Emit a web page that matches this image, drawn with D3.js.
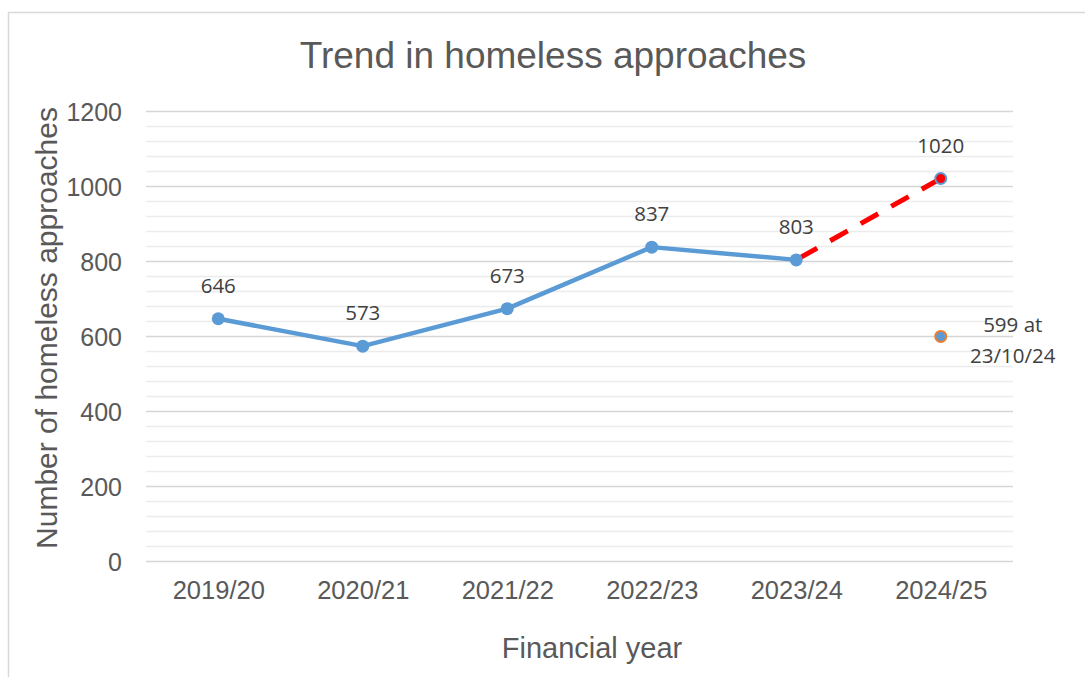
<!DOCTYPE html>
<html><head><meta charset="utf-8">
<script src="https://cdn.jsdelivr.net/npm/d3@7"></script>
<style>body{margin:0;background:#fff}svg{display:block}</style>
</head><body>
<svg id="c" width="1085" height="677"></svg>
<script>
const categories = ["2019/20","2020/21","2021/22","2022/23","2023/24","2024/25"];
const actualValues = [646, 573, 673, 837, 803];
const projectedCategories = ["2023/24","2024/25"];
const projectedValues = [803, 1020];
const partialCategory = "2024/25";
const partialValue = 599;
const partialLabel = ["599 at", "23/10/24"];
const yTicks = [0,200,400,600,800,1000,1200];

const svg = d3.select("#c");
const L=146, R=1013, T=111, B=561;
const x = d3.scalePoint().domain(categories).range([L,R]).padding(0.5);
const y = d3.scaleLinear().domain([0,1200]).range([B,T]);
const axisFont = "'Liberation Sans', Arial, sans-serif";
const labFont = "'Open Sans', 'Noto Sans', sans-serif";

svg.append("rect").attr("x",8.5).attr("y",12.5).attr("width",1100).attr("height",700)
  .attr("fill","#fff").attr("stroke","#d9d9d9").attr("stroke-width",1.5);

// minor gridlines
const minor = d3.range(0,1201,40).filter(v=>v%200!==0);
svg.append("g").call(d3.axisLeft(y).tickValues(minor).tickSize(-(R-L)).tickFormat(""))
  .attr("transform",`translate(${L},0)`)
  .call(g=>g.select(".domain").remove())
  .call(g=>g.selectAll("line").attr("stroke","#ececec").attr("stroke-width",1.5));
// major gridlines + labels
svg.append("g").call(d3.axisLeft(y).tickValues(yTicks).tickSize(-(R-L)).tickPadding(24).tickFormat(d3.format("d")))
  .attr("transform",`translate(${L},0)`)
  .call(g=>g.select(".domain").remove())
  .call(g=>g.selectAll("line").attr("stroke","#d6d6d6").attr("stroke-width",1.5))
  .call(g=>g.selectAll("text").attr("fill","#595959").attr("dy","0.36em").style("font-family",axisFont).style("font-size","25px"));
// x axis labels
svg.append("g").attr("transform",`translate(0,${B})`)
  .call(d3.axisBottom(x).tickSize(0).tickPadding(20))
  .call(g=>g.select(".domain").remove())
  .call(g=>g.selectAll("text").attr("fill","#595959").style("font-family",axisFont).style("font-size","25.5px"));

// titles
svg.append("text").attr("x",553).attr("y",67.5).attr("text-anchor","middle")
  .attr("fill","#595959").style("font-family",axisFont).style("font-size","37px")
  .text("Trend in homeless approaches");
svg.append("text").attr("x",592).attr("y",658).attr("text-anchor","middle")
  .attr("fill","#595959").style("font-family",axisFont).style("font-size","29px")
  .text("Financial year");
svg.append("text").attr("transform","translate(57,328) rotate(-90)").attr("text-anchor","middle")
  .attr("fill","#595959").style("font-family",axisFont).style("font-size","30px")
  .text("Number of homeless approaches");

// projected dashed line
const line = d3.line().x(d=>x(d[0])).y(d=>y(d[1]));
svg.append("path").datum(d3.zip(projectedCategories, projectedValues)).attr("d",line)
  .attr("fill","none").attr("stroke","#ff0000").attr("stroke-width",5)
  .attr("stroke-dasharray","20,15").attr("stroke-dashoffset",-4);
// actual line
const act = d3.zip(categories.slice(0,actualValues.length), actualValues);
svg.append("path").datum(act).attr("d",line)
  .attr("fill","none").attr("stroke","#5b9bd5").attr("stroke-width",4.5).attr("stroke-linejoin","round");
svg.selectAll(".pt").data(act).join("circle").attr("cx",d=>x(d[0])).attr("cy",d=>y(d[1]))
  .attr("r",6.5).attr("fill","#5b9bd5");
svg.selectAll(".lb").data(act).join("text").attr("x",d=>x(d[0])).attr("y",d=>y(d[1])-26)
  .attr("text-anchor","middle").attr("fill","#404040").style("font-family",labFont).style("font-size","20.5px")
  .text(d=>d[1]);
// projected end point
const pe = [projectedCategories[1], projectedValues[1]];
svg.append("circle").attr("cx",x(pe[0])).attr("cy",y(pe[1])).attr("r",5.5)
  .attr("fill","#ff0000").attr("stroke","#5b9bd5").attr("stroke-width",2);
svg.append("text").attr("x",x(pe[0])).attr("y",y(pe[1])-26).attr("text-anchor","middle")
  .attr("fill","#404040").style("font-family",labFont).style("font-size","20.5px").text(pe[1]);
// partial point
svg.append("circle").attr("cx",x(partialCategory)).attr("cy",y(partialValue)).attr("r",5.5)
  .attr("fill","#5b9bd5").attr("stroke","#ed7d31").attr("stroke-width",2);
svg.append("text").attr("y",y(partialValue)-4).attr("text-anchor","middle")
  .attr("fill","#404040").style("font-family",labFont).style("font-size","20.5px")
  .selectAll("tspan").data(partialLabel).join("tspan")
  .attr("x",x(partialCategory)+72).attr("dy",(d,i)=>i?31:0).text(d=>d);
</script>
</body></html>
